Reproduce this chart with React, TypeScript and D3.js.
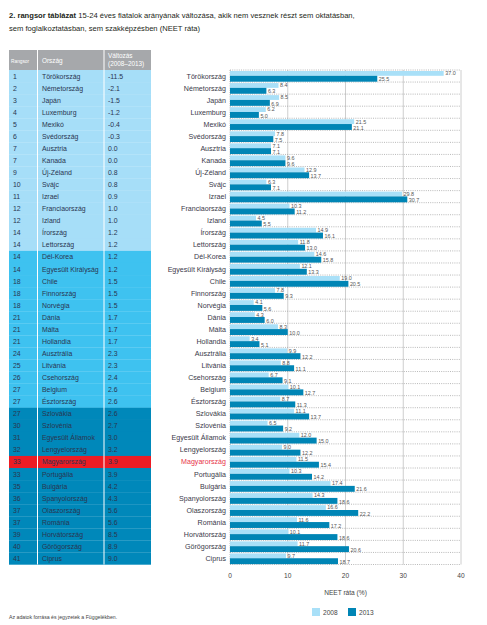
import React from "react";
import * as d3 from "d3";

const countries = ["Törökország","Németország","Japán","Luxemburg","Mexikó","Svédország","Ausztria","Kanada","Új-Zéland","Svájc","Izrael","Franciaország","Izland","Írország","Lettország","Dél-Korea","Egyesült Királyság","Chile","Finnország","Norvégia","Dánia","Málta","Hollandia","Ausztrália","Litvánia","Csehország","Belgium","Észtország","Szlovákia","Szlovénia","Egyesült Államok","Lengyelország","Magyarország","Portugália","Bulgária","Spanyolország","Olaszország","Románia","Horvátország","Görögország","Ciprus"];
const ranks = ["1","2","3","4","5","6","7","7","9","10","11","12","12","14","14","14","14","18","18","18","21","21","21","24","25","26","27","27","27","30","31","32","33","33","35","36","37","37","39","40","41"];
const changes = ["-11.5","-2.1","-1.5","-1.2","-0.4","-0.3","0.0","0.0","0.8","0.8","0.9","1.0","1.0","1.2","1.2","1.2","1.2","1.5","1.5","1.5","1.7","1.7","1.7","2.3","2.3","2.4","2.6","2.6","2.6","2.7","3.0","3.2","3.9","3.9","4.2","4.3","5.6","5.6","8.5","8.9","9.0"];
const groups = [1,1,1,1,1,1,1,1,1,1,1,1,1,1,1,2,2,2,2,2,2,2,2,2,2,2,2,2,3,3,3,3,3,3,3,3,3,3,3,3,3];
const v2008 = [37.0,8.4,8.5,6.2,21.5,7.8,7.1,9.6,12.9,6.3,29.8,10.3,4.5,14.9,11.8,14.6,12.1,19.0,7.8,4.1,4.3,8.3,3.4,9.9,8.8,6.7,10.1,8.7,11.1,6.5,12.0,9.0,11.5,10.3,17.4,14.3,16.6,11.6,10.1,11.7,9.7];
const v2013 = [25.5,6.3,6.9,5.0,21.1,7.5,7.1,9.6,13.7,7.1,30.7,11.2,5.5,16.1,13.0,15.8,13.3,20.5,9.3,5.6,6.0,10.0,5.1,12.2,11.1,9.1,12.7,11.3,13.7,9.2,15.0,12.2,15.4,14.2,21.6,18.6,22.2,17.2,18.6,20.6,18.7];
const xTicks = [0,10,20,30,40];
const highlight = "Magyarország";

const FONT = "'Liberation Sans', Arial, sans-serif";
const C2008 = "#a9e0f8";
const C2013 = "#0085b5";
const groupColors: Record<number,string> = {1:"#a6def8",2:"#3ec2f0",3:"#0088ba"};
const RED = "#ed1c24";
const TXT = "#2a3550";

export default function App() {
  const W = 487, H = 625;
  const y = d3.scaleBand<string>().domain(countries).range([70, 564.5]).padding(0);
  const x = d3.scaleLinear().domain([0, 40]).range([230, 461]);
  const bw = y.bandwidth();
  const fmt = d3.format(".1f");
  const colX = [9, 37.5, 104, 151];

  return (
    <div style={{ position: "absolute", left: 0, top: 0 }}>
      <svg width={W} height={H} style={{ display: "block", fontFamily: FONT }}>
        <rect width={W} height={H} fill="#fff" />
        <text x={9} y={18} fontSize={7.6} fill="#231f20">
          <tspan fontWeight="bold">2. rangsor táblázat</tspan>
          <tspan> 15-24 éves fiatalok arányának változása, akik nem vesznek részt sem oktatásban,</tspan>
        </text>
        <text x={9} y={31} fontSize={7.6} fill="#231f20">sem foglalkoztatásban, sem szakképzésben (NEET ráta)</text>

        {/* Table header */}
        <rect x={colX[0]} y={50} width={colX[3]-colX[0]} height={20} fill="#a6a8ab" />
        <text x={11} y={63} fontSize={4.8} fill="#fff">Rangsor</text>
        <text x={42} y={63} fontSize={6.4} fill="#fff">Ország</text>
        <text x={108} y={58} fontSize={6.4} fill="#fff">Változás</text>
        <text x={108} y={66} fontSize={6.4} fill="#fff">(2008–2013)</text>

        {countries.map((c, i) => {
          const y0 = y(c)!;
          const fill = c === highlight ? RED : groupColors[groups[i]];
          return (
            <g key={"t" + c}>
              <rect x={colX[0]} y={y0} width={colX[3]-colX[0]} height={bw + 0.2} fill={fill} />
              <text x={13} y={y0 + bw / 2 + 2.5} fontSize={6.9} fill={TXT}>{ranks[i]}</text>
              <text x={42} y={y0 + bw / 2 + 2.5} fontSize={6.9} fill={TXT}>{c}</text>
              <text x={108} y={y0 + bw / 2 + 2.5} fontSize={6.9} fill={TXT}>{changes[i]}</text>
            </g>
          );
        })}
        {[colX[1], colX[2]].map((cx) => (
          <line key={"v" + cx} x1={cx} x2={cx} y1={50} y2={564.5} stroke="#fff" strokeWidth={1} />
        ))}

        {/* Chart grid */}
        {xTicks.map((t) => t > 0 ? (
          <line key={"g" + t} x1={x(t)} x2={x(t)} y1={70} y2={564.5} stroke="#c8c8c8" strokeWidth={0.9} />
        ) : null)}
        {countries.map((c) => (
          <line key={"h" + c} x1={230} x2={461} y1={y(c)!} y2={y(c)!} stroke="#8a8a8a" strokeWidth={0.6} strokeDasharray="1,1.2" />
        ))}
        <line x1={230} x2={461} y1={564.5} y2={564.5} stroke="#8a8a8a" strokeWidth={0.6} strokeDasharray="1,1.2" />
        <line x1={230} x2={230} y1={70} y2={564.5} stroke="#8a8a8a" strokeWidth={0.6} strokeDasharray="1,1.2" />

        {countries.map((c, i) => {
          const y0 = y(c)!;
          return (
            <g key={"b" + c}>
              <rect x={x(0)} y={y0 + 1} width={x(v2008[i]) - x(0)} height={4.8} fill={C2008} />
              <rect x={x(0)} y={y0 + 5.8} width={x(v2013[i]) - x(0)} height={5.9} fill={C2013} />
              <text x={x(v2008[i]) + 1.5} y={y0 + 5.3} fontSize={5.4} fill="#555">{fmt(v2008[i])}</text>
              <text x={x(v2013[i]) + 1.5} y={y0 + 11.4} fontSize={5.4} fill="#555">{fmt(v2013[i])}</text>
              <text x={226} y={y0 + bw / 2 + 2.5} fontSize={7.1} textAnchor="end" fill={c === highlight ? "#e8334a" : "#3a3a4a"}>{c}</text>
            </g>
          );
        })}

        {xTicks.map((t) => (
          <text key={"xt" + t} x={x(t)} y={578} fontSize={6.6} textAnchor="middle" fill="#444">{t}</text>
        ))}
        <text x={345.5} y={595} fontSize={6.6} textAnchor="middle" fill="#444">NEET ráta (%)</text>

        <rect x={312} y={608} width={8} height={8} fill={C2008} />
        <text x={323} y={615} fontSize={6.6} fill="#444">2008</text>
        <rect x={348} y={608} width={8} height={8} fill={C2013} />
        <text x={359} y={615} fontSize={6.6} fill="#444">2013</text>

        <text x={9} y={619} fontSize={5.2} fill="#444">Az adatok forrása és jegyzetek a Függelékben.</text>
      </svg>
    </div>
  );
}
